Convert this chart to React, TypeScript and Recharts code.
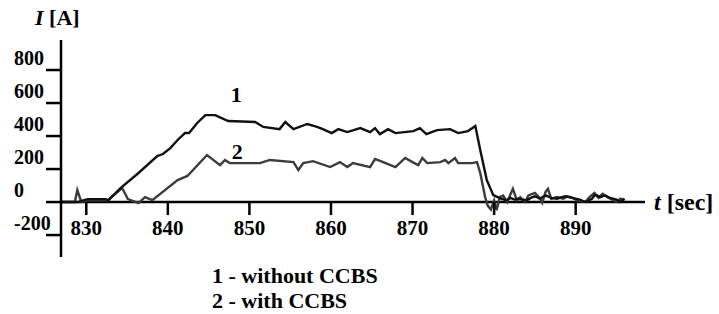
import React from "react";
import { LineChart, Line, XAxis, YAxis, ReferenceLine, ReferenceDot } from "recharts";

// time axis (sec) and current (A)
const tWithout = [827, 829, 829.6, 830.2, 832.4, 832.7, 834.2, 836.4, 838.7, 839.4, 840.3, 841.2, 842.1, 842.6, 843.6, 844.6, 845.8, 847.4, 850.7, 851.7, 853.7, 854.4, 855.4, 857.1, 858.3, 859.0, 860.1, 860.9, 862.0, 863.6, 864.8, 865.4, 866.0, 867.0, 867.9, 870.1, 870.9, 871.7, 873.0, 874.6, 875.6, 876.8, 877.7, 878.3, 879.1, 879.9, 880.7, 881.5, 882.0, 882.5, 883.0, 884.0, 884.5, 885.0, 885.6, 886.3, 887.0, 887.7, 888.7, 889.6, 890.5, 891.2, 892.0, 892.4, 893.0, 893.6, 894.2, 895.0, 895.4, 896.0];
const iWithout = [0, 0, 10, 18, 18, 10, 85, 176, 279, 291, 327, 376, 418, 418, 479, 527, 527, 491, 485, 455, 442, 485, 442, 473, 455, 442, 418, 442, 424, 448, 424, 448, 412, 442, 418, 430, 448, 412, 436, 442, 418, 430, 461, 315, 133, 42, 24, 10, 25, 15, 20, 10, 25, 35, 20, 40, 25, 20, 35, 25, 15, 0, 20, 45, 30, 40, 25, 15, 0, 20];

const tWith = [827, 828.6, 828.9, 829.4, 830.2, 832.6, 834.4, 835.1, 836.4, 837.2, 838.1, 841.2, 842.4, 844.8, 846.4, 847.0, 847.6, 851.3, 852.5, 855.4, 856.0, 856.6, 857.8, 859.9, 861.1, 862.0, 862.7, 864.8, 865.4, 866.4, 867.9, 869.1, 870.0, 870.7, 871.2, 871.8, 873.4, 874.0, 874.4, 875.2, 875.6, 877.3, 877.9, 878.3, 878.9, 879.2, 879.6, 880.0, 880.3, 880.7, 881.1, 881.6, 882.3, 882.8, 883.2, 883.8, 884.2, 885.0, 885.6, 885.9, 886.3, 886.6, 887.0, 887.7, 888.5, 889.0, 889.6, 890.2, 891.2, 891.7, 892.3, 892.8, 893.3, 893.9, 894.5, 895.0, 895.5, 896.0];
const iWith = [0, 0, 73, 0, 10, 10, 85, 18, -6, 30, 12, 133, 158, 285, 224, 255, 236, 236, 255, 242, 194, 236, 248, 212, 242, 212, 236, 212, 261, 242, 212, 267, 242, 224, 267, 236, 242, 255, 236, 267, 236, 236, 242, 176, 30, -20, -45, 10, -50, 30, 40, 0, 80, 10, 30, 0, 40, 55, 25, -5, 60, 80, 20, 30, 20, 35, 25, 10, 0, 30, 55, 25, 50, 30, 15, 0, 20, 10];

const xTicks = [830, 840, 850, 860, 870, 880, 890];
const yTicks = [-200, 0, 200, 400, 600, 800];
const legendLines = ["1 - without CCBS", "2 - with CCBS"];
const curveLabels = [
  { t: 848.4, i: 655, text: "1" },
  { t: 848.5, i: 310, text: "2" },
];

const dataWithout = tWithout.map((t, k) => ({ t, i: iWithout[k] }));
const dataWith = tWith.map((t, k) => ({ t, i: iWith[k] }));

const W = 719;
const H = 314;
const Y_AXIS_W = 47;
const X_AXIS_H = 30;
const margin = { top: 40, right: 74, bottom: 57 - X_AXIS_H, left: 61 - Y_AXIS_W };
const yDomain: [number, number] = [-333, 982];
const xDomain: [number, number] = [826.9, 898.5];
const FONT = "Liberation Serif";

// pixel row of I = 0 from the y-scale
const plotH = H - 40 - 57;
const zeroY = 40 + (plotH * (yDomain[1] - 0)) / (yDomain[1] - yDomain[0]);

const XTick = (props: any) => {
  const { x, payload } = props;
  return (
    <g>
      <line x1={x} x2={x} y1={zeroY} y2={zeroY + 13} stroke="#000" strokeWidth={2.5} />
      <text x={x} y={zeroY + 33} textAnchor="middle" style={{ fontFamily: FONT, fontWeight: 700, fontSize: 21 }} fill="#000">
        {payload.value}
      </text>
    </g>
  );
};

const YTick = (props: any) => {
  const { y, payload } = props;
  return (
    <text x={14} y={y - 5} textAnchor="start" style={{ fontFamily: FONT, fontWeight: 700, fontSize: 20 }} fill="#000">
      {payload.value}
    </text>
  );
};

export default function App() {
  return (
    <div style={{ position: "absolute", left: 0, top: 0, width: W, height: H, background: "#fff" }}>
      <LineChart width={W} height={H} margin={margin}>
        <XAxis
          type="number"
          dataKey="t"
          domain={xDomain}
          ticks={xTicks}
          allowDataOverflow
          axisLine={false}
          tickLine={false}
          height={X_AXIS_H}
          tick={<XTick />}
        />
        <YAxis
          type="number"
          dataKey="i"
          domain={yDomain}
          ticks={yTicks}
          allowDataOverflow
          width={Y_AXIS_W}
          axisLine={{ stroke: "#000", strokeWidth: 2.5 }}
          tickLine={{ stroke: "#000", strokeWidth: 2.5 }}
          tickSize={15}
          tick={<YTick />}
        />
        <ReferenceLine y={0} stroke="#000" strokeWidth={2.5} />
        <Line data={dataWith} dataKey="i" type="linear" stroke="#3c3c3c" strokeWidth={2.4} dot={false} isAnimationActive={false} />
        <Line data={dataWithout} dataKey="i" type="linear" stroke="#111" strokeWidth={2.4} dot={false} isAnimationActive={false} />
        {curveLabels.map((c) => (
          <ReferenceDot
            key={c.text}
            x={c.t}
            y={c.i}
            r={0}
            fill="none"
            stroke="none"
            label={{ value: c.text, position: "center", style: { fontFamily: FONT, fontWeight: 700, fontSize: 22 }, fill: "#000" }}
          />
        ))}
      </LineChart>
      <svg width={W} height={H} style={{ position: "absolute", left: 0, top: 0, pointerEvents: "none" }}>
        <text x={35} y={25} style={{ fontFamily: FONT, fontWeight: 700, fontSize: 22 }} fill="#000">
          <tspan fontStyle="italic">I</tspan>
          <tspan> [A]</tspan>
        </text>
        <text x={654} y={210} style={{ fontFamily: FONT, fontWeight: 700, fontSize: 24 }} fill="#000">
          <tspan fontStyle="italic">t</tspan>
          <tspan> [sec]</tspan>
        </text>
        {legendLines.map((s, k) => (
          <text key={s} x={212} y={283 + k * 25} style={{ fontFamily: FONT, fontWeight: 700, fontSize: 22 }} fill="#000">
            {s}
          </text>
        ))}
      </svg>
    </div>
  );
}
